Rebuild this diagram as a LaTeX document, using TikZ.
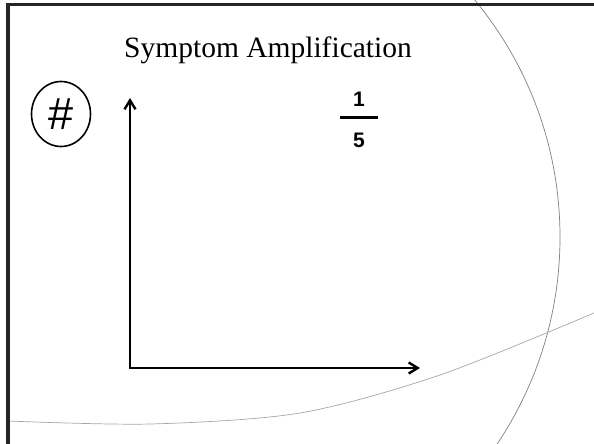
\documentclass[tikz,border=0pt]{standalone}
\usepackage{fontspec}
\setmainfont{Liberation Serif}
\newfontfamily\arialfont{Liberation Sans}
\usetikzlibrary{arrows.meta,positioning,shapes.geometric}

\begin{document}
\begin{tikzpicture}[x=1pt,y=-1pt]
    % Define Styles
        \tikzstyle{frame} = [
            draw = black!85,
            line width = 3.2pt
        ]
        \tikzstyle{sketch} = [
            draw = black!50,
            line width = 0.7pt
        ]
        \tikzstyle{axis} = [
            draw,
            line width = 2.4pt,
            {Straight Barb[length=9pt,width=11pt,line width=2.4pt]}-{Straight Barb[length=9pt,width=11pt,line width=2.4pt]}
        ]
        \tikzstyle{ring} = [
            ellipse,
            draw,
            line width = 1.6pt,
            minimum width = 59pt,
            minimum height = 65pt,
            inner sep = 0pt,
            font = \arialfont\fontsize{45}{45}\selectfont
        ]
        \tikzstyle{digit} = [
            inner sep = 0pt,
            font = \arialfont\bfseries\fontsize{21}{21}\selectfont
        ]
    \useasboundingbox (0,0) rectangle (594,444);
    % Background curves
        \begin{scope}
            \clip (0,0) rectangle (594,444);
            \draw [sketch] (188,237) circle [radius=372pt];
            \draw [sketch, draw=black!35] plot [smooth] coordinates {
                (8,421) (150,424) (300,413) (440,375) (594,313)
            };
        \end{scope}
        \draw [frame] (8,444) -- (8,4.7) -- (594,4.7);
    % Place nodes
        \node [anchor=base, font=\fontsize{29.5}{30}\selectfont] (title) at (268,57) {%
            Symptom Amplification
        };
        \node [ring] (hash) at (61,114) {\#};
        \node [digit] (one) at (359,99) {1};
        \node [fill, minimum width=38pt, minimum height=3.2pt, inner sep=0pt, below=9pt of one] (bar) {};
        \node [digit, below=13.5pt of bar] (five) {5};
        \coordinate (origin) at (130,368);
        \coordinate (ytip) at (130,98);
        \coordinate (xtip) at (420,368);
    % Draw edges
        \path [axis] (ytip) -- (origin) -- (xtip);
\end{tikzpicture}
\end{document}
